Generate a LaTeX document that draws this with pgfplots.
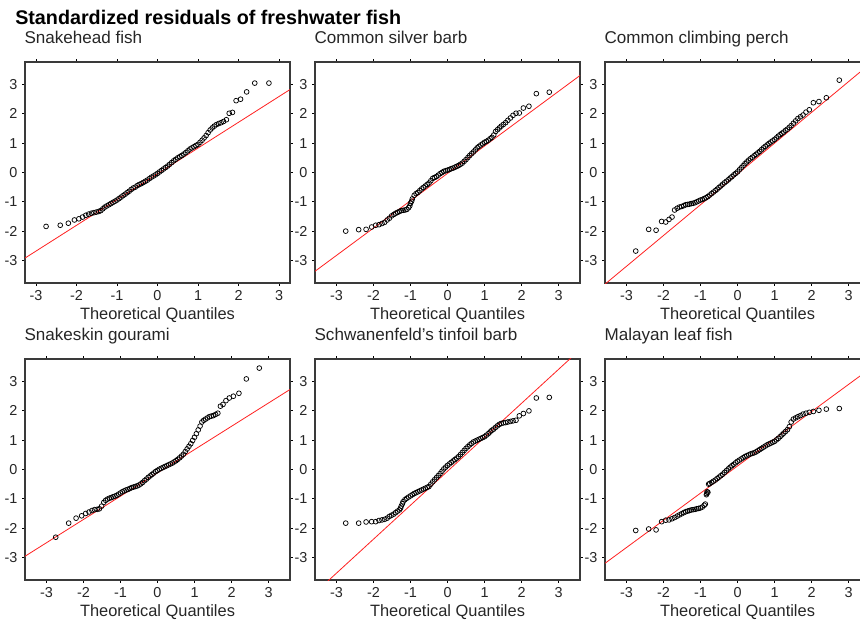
\documentclass[border=0pt]{standalone}
\usepackage{fontspec}
\setmainfont{Liberation Sans}
\usepackage{pgfplots}
\pgfplotsset{compat=1.18}
\definecolor{framegray}{HTML}{3A3A3A}
\definecolor{refred}{HTML}{FF2020}
\pgfplotsset{
  qq/.style={
    scale only axis, width=198.75pt, height=165.75pt,
    xmin=-3.58, xmax=3.58, ymin=-3.77, ymax=3.77,
    xtick={-3,-2,-1,0,1,2,3}, ytick={-3,-2,-1,0,1,2,3},
    tick align=outside, major tick length=2.2pt,
    tick style={black, line width=0.6pt},
    axis line style={draw=framegray, line width=1.1pt},
    tick label style={font=\fontsize{10.8}{12}\selectfont, text=black!85},
    /pgf/number format/assume math mode=true,
    xlabel={Theoretical Quantiles},
    xlabel style={font=\fontsize{12.3}{14}\selectfont, at={(0.5,0)}, anchor=base, yshift=-27.4pt, text=black!85},
    title style={font=\fontsize{12.8}{14}\selectfont, at={(0,1)}, anchor=base west, yshift=7.5pt, xshift=-0.5pt, text=black!85, inner sep=0pt},
    clip=true,
  },
  pts/.style={only marks, mark=o, mark size=1.8pt, mark options={black, line width=0.55pt}},
  refl/.style={refred, line width=0.6pt, no marks},
}
\begin{document}
\begin{tikzpicture}
\path[use as bounding box] (0,0) rectangle (645pt,466.5pt);
\node[anchor=base west, inner sep=0pt, font=\bfseries\fontsize{14.8}{17}\selectfont] at (11.25pt,447.75pt) {Standardized residuals of freshwater fish};

% Panel 1
\begin{axis}[qq, at={(18.75pt,254.25pt)}, anchor=south west, xmin=-3.27, xmax=3.27, title={Snakehead fish}]
\addplot[pts] coordinates {(-2.75,-1.84)(-2.40,-1.80)(-2.20,-1.73)(-2.05,-1.62)(-1.94,-1.58)(-1.85,-1.52)(-1.77,-1.46)(-1.70,-1.42)(-1.63,-1.39)(-1.57,-1.37)(-1.51,-1.35)(-1.45,-1.33)(-1.40,-1.30)(-1.35,-1.24)(-1.30,-1.18)(-1.25,-1.14)(-1.2,-1.10)(-1.1,-1.02)(-1.0,-0.94)(-0.9,-0.84)(-0.8,-0.74)(-0.7,-0.64)(-0.6,-0.53)(-0.5,-0.45)(-0.4,-0.38)(-0.3,-0.30)(-0.2,-0.21)(-0.1,-0.12)(0,-0.03)(0.1,0.07)(0.2,0.17)(0.3,0.28)(0.4,0.40)(0.5,0.50)(0.6,0.58)(0.7,0.68)(0.8,0.80)(0.9,0.88)(1.0,0.96)(1.1,1.10)(1.2,1.26)(1.25,1.36)(1.30,1.45)(1.35,1.52)(1.40,1.58)(1.45,1.63)(1.51,1.67)(1.57,1.70)(1.63,1.74)(1.70,1.80)(1.77,2.02)(1.85,2.05)(1.94,2.45)(2.05,2.50)(2.20,2.75)(2.40,3.05)(2.75,3.05)
(-1.15,-1.06)(-1.05,-0.98)(-0.95,-0.89)(-0.85,-0.79)(-0.75,-0.69)(-0.65,-0.58)(-0.55,-0.50)(-0.45,-0.41)(-0.35,-0.34)(-0.25,-0.26)(-0.15,-0.16)(-0.05,-0.08)(0.05,0.02)(0.15,0.12)(0.25,0.22)(0.35,0.34)(0.45,0.45)(0.55,0.54)(0.65,0.63)(0.75,0.74)(0.85,0.84)(0.95,0.92)(1.05,1.03)(1.15,1.18)};
\addplot[refl] coordinates {(-3.27,-2.92) (3.27,2.83)};
\end{axis}

% Panel 2
\begin{axis}[qq, at={(236.25pt,254.25pt)}, anchor=south west, title={Common silver barb}]
\addplot[pts] coordinates {(-2.75,-2.00)(-2.40,-1.95)(-2.20,-1.94)(-2.05,-1.86)(-1.94,-1.80)(-1.85,-1.78)(-1.77,-1.74)(-1.70,-1.70)(-1.63,-1.62)(-1.57,-1.56)(-1.51,-1.48)(-1.45,-1.43)(-1.40,-1.39)(-1.35,-1.36)(-1.30,-1.33)(-1.25,-1.30)(-1.2,-1.29)(-1.1,-1.26)(-1.0,-1.05)(-0.9,-0.78)(-0.8,-0.68)(-0.7,-0.56)(-0.6,-0.46)(-0.5,-0.36)(-0.4,-0.20)(-0.3,-0.14)(-0.2,-0.04)(-0.1,0.04)(0,0.08)(0.1,0.13)(0.2,0.18)(0.3,0.24)(0.4,0.32)(0.5,0.44)(0.6,0.58)(0.7,0.70)(0.8,0.84)(0.9,0.94)(1.0,1.03)(1.1,1.10)(1.2,1.20)(1.25,1.28)(1.30,1.40)(1.35,1.46)(1.40,1.52)(1.45,1.58)(1.51,1.64)(1.57,1.70)(1.63,1.78)(1.70,1.86)(1.77,1.95)(1.85,2.02)(1.94,2.03)(2.05,2.20)(2.20,2.26)(2.40,2.69)(2.75,2.74)
(-1.15,-1.28)(-1.05,-1.20)(-1.02,-1.14)(-0.97,-0.98)(-0.95,-0.90)(-0.85,-0.72)(-0.75,-0.62)(-0.65,-0.51)(-0.55,-0.41)(-0.45,-0.28)(-0.35,-0.17)(-0.25,-0.09)(-0.15,0.00)(-0.05,0.06)(0.05,0.10)(0.15,0.15)(0.25,0.21)(0.35,0.28)(0.45,0.38)(0.55,0.51)(0.65,0.64)(0.75,0.77)(0.85,0.89)(0.95,0.98)(1.05,1.06)(1.15,1.15)};
\addplot[refl] coordinates {(-3.58,-3.37) (3.58,3.31)};
\end{axis}

% Panel 3
\begin{axis}[qq, at={(453.75pt,254.25pt)}, anchor=south west, title={Common climbing perch}]
\addplot[pts] coordinates {(-2.75,-2.68)(-2.40,-1.94)(-2.20,-1.97)(-2.05,-1.67)(-1.94,-1.69)(-1.85,-1.60)(-1.77,-1.52)(-1.70,-1.28)(-1.63,-1.22)(-1.57,-1.18)(-1.51,-1.16)(-1.45,-1.13)(-1.40,-1.10)(-1.35,-1.09)(-1.30,-1.08)(-1.25,-1.06)(-1.2,-1.05)(-1.1,-1.00)(-1.0,-0.94)(-0.9,-0.89)(-0.8,-0.82)(-0.7,-0.72)(-0.6,-0.62)(-0.5,-0.51)(-0.4,-0.40)(-0.3,-0.30)(-0.2,-0.19)(-0.1,-0.08)(0,0.02)(0.1,0.16)(0.2,0.30)(0.3,0.42)(0.4,0.52)(0.5,0.62)(0.6,0.72)(0.7,0.84)(0.8,0.94)(0.9,1.04)(1.0,1.13)(1.1,1.24)(1.2,1.34)(1.25,1.38)(1.30,1.44)(1.35,1.48)(1.40,1.54)(1.45,1.60)(1.51,1.68)(1.57,1.76)(1.63,1.84)(1.70,1.90)(1.77,1.96)(1.85,2.06)(1.94,2.14)(2.05,2.38)(2.20,2.42)(2.40,2.55)(2.75,3.15)
(-1.15,-1.03)(-1.05,-0.97)(-0.95,-0.92)(-0.85,-0.86)(-0.75,-0.77)(-0.65,-0.67)(-0.55,-0.57)(-0.45,-0.46)(-0.35,-0.35)(-0.25,-0.25)(-0.15,-0.14)(-0.05,-0.03)(0.05,0.09)(0.15,0.23)(0.25,0.36)(0.35,0.47)(0.45,0.57)(0.55,0.67)(0.65,0.78)(0.75,0.89)(0.85,0.99)(0.95,1.08)(1.05,1.18)(1.15,1.29)};
\addplot[refl] coordinates {(-3.6,-3.83) (3.6,3.73)};
\end{axis}

% Panel 4
\begin{axis}[qq, at={(18.75pt,31.5pt)}, anchor=south west, title={Snakeskin gourami}]
\addplot[pts] coordinates {(-2.75,-2.31)(-2.40,-1.83)(-2.20,-1.66)(-2.05,-1.58)(-1.94,-1.50)(-1.85,-1.45)(-1.77,-1.40)(-1.70,-1.37)(-1.63,-1.36)(-1.57,-1.34)(-1.51,-1.25)(-1.45,-1.12)(-1.40,-1.05)(-1.35,-1.01)(-1.30,-0.98)(-1.25,-0.96)(-1.2,-0.93)(-1.1,-0.88)(-1.0,-0.80)(-0.9,-0.73)(-0.8,-0.68)(-0.7,-0.62)(-0.6,-0.58)(-0.5,-0.53)(-0.4,-0.44)(-0.3,-0.33)(-0.2,-0.22)(-0.1,-0.12)(0,-0.03)(0.1,0.04)(0.2,0.10)(0.3,0.16)(0.4,0.22)(0.5,0.30)(0.6,0.40)(0.7,0.52)(0.8,0.70)(0.9,0.88)(1.0,1.10)(1.1,1.35)(1.2,1.62)(1.25,1.68)(1.30,1.72)(1.35,1.76)(1.40,1.80)(1.45,1.82)(1.51,1.84)(1.57,1.88)(1.63,1.92)(1.70,2.16)(1.77,2.22)(1.85,2.35)(1.94,2.44)(2.05,2.50)(2.20,2.60)(2.40,3.09)(2.75,3.46)
(-1.15,-0.91)(-1.05,-0.84)(-0.95,-0.76)(-0.85,-0.70)(-0.75,-0.65)(-0.65,-0.60)(-0.55,-0.56)(-0.45,-0.49)(-0.35,-0.38)(-0.25,-0.27)(-0.15,-0.17)(-0.05,-0.07)(0.05,0.01)(0.15,0.07)(0.25,0.13)(0.35,0.19)(0.45,0.26)(0.55,0.35)(0.65,0.46)(0.75,0.61)(0.85,0.79)(0.95,0.99)(1.05,1.22)(1.15,1.48)};
\addplot[refl] coordinates {(-3.58,-2.96) (3.58,2.73)};
\end{axis}

% Panel 5
\begin{axis}[qq, at={(236.25pt,31.5pt)}, anchor=south west, title={Schwanenfeld's tinfoil barb}]
\addplot[pts] coordinates {(-2.75,-1.83)(-2.40,-1.83)(-2.20,-1.79)(-2.05,-1.78)(-1.94,-1.78)(-1.85,-1.74)(-1.77,-1.72)(-1.70,-1.70)(-1.63,-1.66)(-1.57,-1.60)(-1.51,-1.56)(-1.45,-1.52)(-1.40,-1.47)(-1.35,-1.42)(-1.30,-1.38)(-1.25,-1.25)(-1.2,-1.10)(-1.1,-0.98)(-1.0,-0.90)(-0.9,-0.82)(-0.8,-0.76)(-0.7,-0.70)(-0.6,-0.64)(-0.5,-0.58)(-0.4,-0.42)(-0.3,-0.28)(-0.2,-0.14)(-0.1,0.02)(0,0.14)(0.1,0.24)(0.2,0.34)(0.3,0.44)(0.4,0.58)(0.5,0.72)(0.6,0.84)(0.7,0.94)(0.8,1.00)(0.9,1.06)(1.0,1.12)(1.1,1.22)(1.2,1.34)(1.25,1.38)(1.30,1.44)(1.35,1.49)(1.40,1.54)(1.45,1.57)(1.51,1.59)(1.57,1.60)(1.63,1.62)(1.70,1.64)(1.77,1.66)(1.85,1.68)(1.94,1.83)(2.05,1.91)(2.20,2.00)(2.40,2.44)(2.75,2.46)
(-1.27,-1.32)(-1.22,-1.17)(-1.15,-1.03)(-1.05,-0.94)(-0.95,-0.86)(-0.85,-0.79)(-0.75,-0.73)(-0.65,-0.67)(-0.55,-0.61)(-0.45,-0.50)(-0.35,-0.35)(-0.25,-0.21)(-0.15,-0.06)(-0.05,0.08)(0.05,0.19)(0.15,0.29)(0.25,0.39)(0.35,0.51)(0.45,0.65)(0.55,0.78)(0.65,0.89)(0.75,0.97)(0.85,1.03)(0.95,1.09)(1.05,1.17)(1.15,1.28)};
\addplot[refl] coordinates {(-3.4,-4.00) (3.4,3.88)};
\end{axis}

% Panel 6
\begin{axis}[qq, at={(453.75pt,31.5pt)}, anchor=south west, title={Malayan leaf fish}]
\addplot[pts] coordinates {(-2.75,-2.08)(-2.40,-2.03)(-2.20,-2.06)(-2.05,-1.78)(-1.94,-1.73)(-1.85,-1.72)(-1.77,-1.68)(-1.70,-1.64)(-1.63,-1.59)(-1.57,-1.55)(-1.51,-1.51)(-1.45,-1.47)(-1.40,-1.44)(-1.35,-1.42)(-1.30,-1.40)(-1.25,-1.38)(-1.2,-1.37)(-1.1,-1.34)(-1.0,-1.31)(-0.9,-1.22)(-0.83,-0.82)(-0.80,-0.78)(-0.75,-0.48)(-0.7,-0.44)(-0.6,-0.36)(-0.5,-0.26)(-0.4,-0.16)(-0.3,-0.04)(-0.2,0.08)(-0.1,0.18)(0,0.28)(0.1,0.36)(0.2,0.44)(0.3,0.50)(0.4,0.55)(0.5,0.60)(0.6,0.68)(0.7,0.76)(0.8,0.84)(0.9,0.90)(1.0,0.96)(1.1,1.06)(1.2,1.18)(1.25,1.24)(1.30,1.30)(1.35,1.36)(1.40,1.46)(1.45,1.62)(1.51,1.72)(1.57,1.76)(1.63,1.80)(1.70,1.84)(1.77,1.89)(1.85,1.92)(1.94,1.95)(2.05,1.98)(2.20,2.02)(2.40,2.06)(2.75,2.08)
(-1.15,-1.36)(-1.05,-1.33)(-0.95,-1.28)(-0.87,-1.18)(-0.84,-0.86)(-0.82,-0.76)(-0.78,-0.50)(-0.65,-0.40)(-0.55,-0.31)(-0.45,-0.21)(-0.35,-0.10)(-0.25,0.02)(-0.15,0.13)(-0.05,0.23)(0.05,0.32)(0.15,0.40)(0.25,0.47)(0.35,0.53)(0.45,0.57)(0.55,0.64)(0.65,0.72)(0.75,0.80)(0.85,0.87)(0.95,0.93)(1.05,1.01)(1.15,1.12)};
\addplot[refl] coordinates {(-3.58,-3.20) (3.58,3.44)};
\end{axis}
\end{tikzpicture}
\end{document}
